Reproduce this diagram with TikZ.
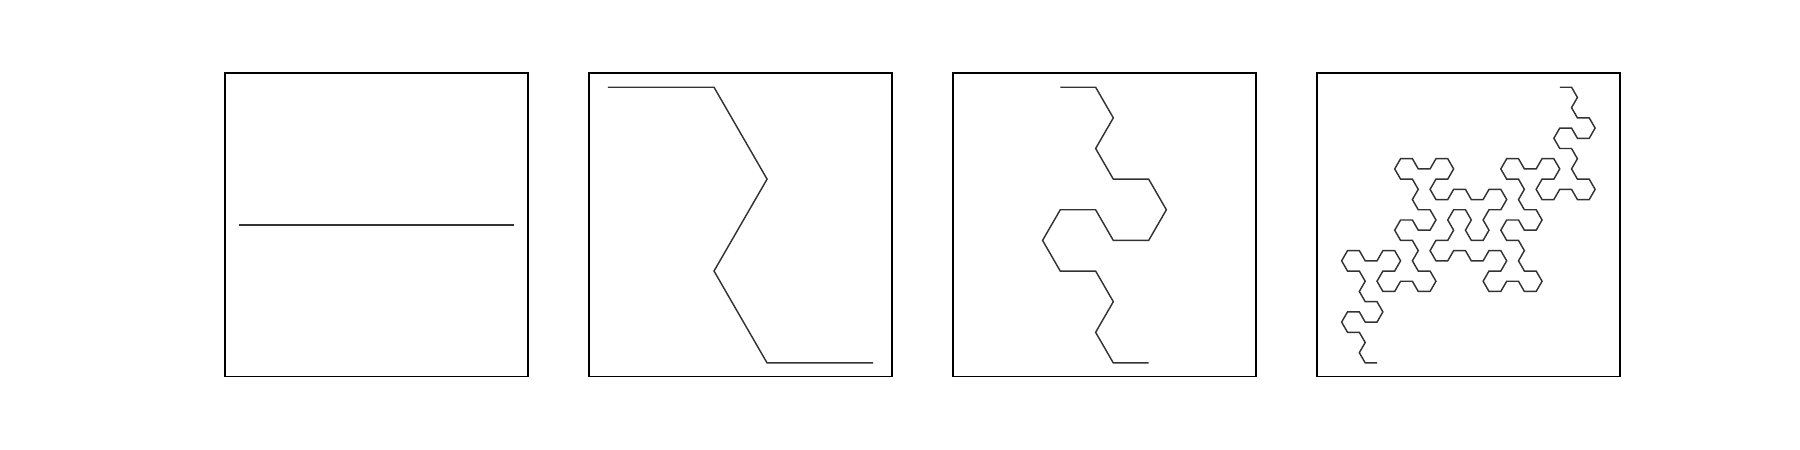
\documentclass[tikz,border=0pt]{standalone}
\definecolor{curvecol}{HTML}{333333}
% recursive hexagonal curve: L(n) = L(n-1), F(-60), L(n-1) rotated -120, F(-60), L(n-1)
\newcommand\hexcurve[2]{%
  \ifnum#1=1\relax
    \xdef\hexpath{\hexpath -- ++(\the\numexpr#2\relax:\hexlen)}%
  \else
    \hexcurve{\the\numexpr#1-1\relax}{#2}%
    \xdef\hexpath{\hexpath -- ++(\the\numexpr#2-60\relax:\hexlen)}%
    \hexcurve{\the\numexpr#1-1\relax}{\the\numexpr#2-120\relax}%
    \xdef\hexpath{\hexpath -- ++(\the\numexpr#2-60\relax:\hexlen)}%
    \hexcurve{\the\numexpr#1-1\relax}{#2}%
  \fi}
\newcommand\drawhexpath[2]{\draw[curveline] (#2) #1;}
\newcommand\drawhex[3]{% level, segment length, start coordinate
  \gdef\hexpath{}\def\hexlen{#2}\hexcurve{#1}{0}%
  \expandafter\drawhexpath\expandafter{\hexpath}{#3}}
\begin{document}
\begin{tikzpicture}[x=0.4pt,y=0.4pt,
  frame/.style={draw=black,line width=0.66pt},
  curveline/.style={draw=curvecol,line width=0.58pt,line join=miter}]
\useasboundingbox (0,0) rectangle (1800,450);
% panel frames
\coordinate (b1) at (225.00,73.6);
\coordinate (b2) at (588.91,73.6);
\coordinate (b3) at (952.83,73.6);
\coordinate (b4) at (1316.74,73.6);
\draw[frame] (b1) rectangle ++(303.26,303.26);
\draw[frame] (b2) rectangle ++(303.26,303.26);
\draw[frame] (b3) rectangle ++(303.26,303.26);
\draw[frame] (b4) rectangle ++(303.26,303.26);
% start points of the curves
\coordinate (s1) at (238.79,224.9);
\coordinate (s2) at (607.90,362.74);
\coordinate (s3) at (1060.25,362.74);
\coordinate (s4) at (1559.74,362.74);
\drawhex{1}{275.69}{s1}
\drawhex{2}{106.11}{s2}
\drawhex{3}{35.371}{s3}
\drawhex{5}{11.790}{s4}
\end{tikzpicture}
\end{document}
